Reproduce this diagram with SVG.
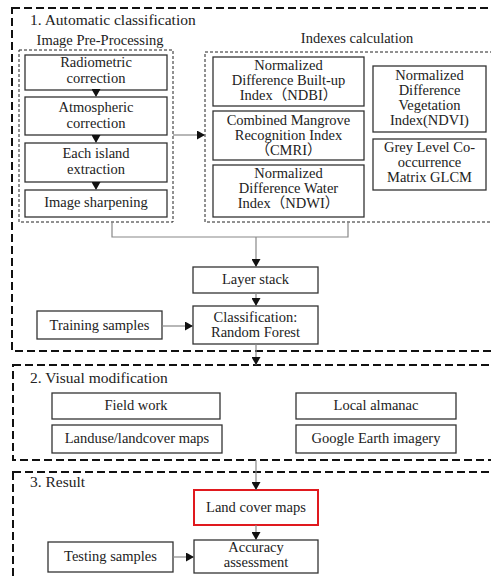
<svg xmlns="http://www.w3.org/2000/svg" width="491" height="580" viewBox="0 0 491 580">
<style>
text{font-family:"Liberation Serif","Noto Sans CJK SC",serif;fill:#222;font-size:14.5px;text-anchor:middle}
.hd{font-size:15.5px;text-anchor:start}
.node{fill:#fff;stroke:#333;stroke-width:1.3}
.red{fill:#fff;stroke:#e0191e;stroke-width:2}
.outer{fill:none;stroke:#111;stroke-width:2;stroke-dasharray:8 4}
.inner{fill:none;stroke:#222;stroke-width:1;stroke-dasharray:3 2}
.con{fill:none;stroke:#888;stroke-width:1.2}
</style>
<defs>
<marker id="ah" markerUnits="userSpaceOnUse" markerWidth="9" markerHeight="9" refX="8" refY="4.5" orient="auto">
<path d="M0,0 L8,4.5 L0,9 z" fill="#111"/>
</marker>
</defs>
<rect width="491" height="580" fill="#fff"/>
<g id="sections">
<rect class="outer" x="12" y="8" width="500" height="343"/>
<rect class="outer" x="13" y="365" width="500" height="95"/>
<rect class="outer" x="13" y="472" width="500" height="140"/>
<text class="hd" x="30" y="25">1. Automatic classification</text>
<text class="hd" x="30" y="383">2. Visual modification</text>
<text class="hd" x="30" y="487">3. Result</text>
</g>
<g id="preprocessing">
<rect class="inner" x="19" y="50" width="154" height="172"/>
<text x="100" y="45">Image Pre-Processing</text>
</g>
<g id="indexes">
<rect class="inner" x="205" y="52" width="300" height="170"/>
<text x="357" y="43">Indexes calculation</text>
</g>
<g id="radiometric"><rect class="node" x="25" y="55" width="142" height="35"/><text x="96" y="67">Radiometric</text><text x="96" y="83">correction</text></g>
<g id="atmospheric"><rect class="node" x="25" y="97" width="142" height="38"/><text x="96" y="112">Atmospheric</text><text x="96" y="128">correction</text></g>
<g id="island"><rect class="node" x="25" y="143" width="142" height="39"/><text x="96" y="158">Each island</text><text x="96" y="174">extraction</text></g>
<g id="sharpening"><rect class="node" x="25" y="190" width="142" height="27"/><text x="96" y="207">Image sharpening</text></g>
<g id="ndbi"><rect class="node" x="213" y="57" width="151" height="49"/><text x="288.5" y="70">Normalized</text><text x="288.5" y="85">Difference Built-up</text><text x="288.5" y="100">Index（NDBI）</text></g>
<g id="cmri"><rect class="node" x="213" y="111" width="151" height="49"/><text x="288.5" y="125">Combined Mangrove</text><text x="288.5" y="140">Recognition Index</text><text x="288.5" y="155">（CMRI）</text></g>
<g id="ndwi"><rect class="node" x="213" y="165" width="151" height="52"/><text x="288.5" y="178">Normalized</text><text x="288.5" y="193">Difference Water</text><text x="288.5" y="208">Index（NDWI）</text></g>
<g id="ndvi"><rect class="node" x="373" y="66" width="113" height="66"/><text x="429.5" y="80">Normalized</text><text x="429.5" y="95">Difference</text><text x="429.5" y="110">Vegetation</text><text x="429.5" y="125">Index(NDVI)</text></g>
<g id="glcm"><rect class="node" x="373" y="139" width="113" height="51"/><text x="429.5" y="152">Grey Level Co-</text><text x="429.5" y="167">occurrence</text><text x="429.5" y="182">Matrix GLCM</text></g>
<g id="layerstack"><rect class="node" x="193" y="267" width="125" height="26"/><text x="255.5" y="284">Layer stack</text></g>
<g id="classification"><rect class="node" x="193" y="306" width="125" height="38"/><text x="255.5" y="322">Classification:</text><text x="255.5" y="337">Random Forest</text></g>
<g id="training"><rect class="node" x="37" y="311" width="125" height="28"/><text x="99.5" y="330">Training samples</text></g>
<g id="fieldwork"><rect class="node" x="52" y="393" width="168" height="26"/><text x="136" y="410">Field work</text></g>
<g id="almanac"><rect class="node" x="296" y="393" width="160" height="26"/><text x="376" y="410">Local almanac</text></g>
<g id="landuse"><rect class="node" x="52" y="425" width="170" height="28"/><text x="137" y="443">Landuse/landcover maps</text></g>
<g id="google"><rect class="node" x="296" y="425" width="160" height="28"/><text x="376" y="443">Google Earth imagery</text></g>
<g id="landcover"><rect class="red" x="194" y="490" width="124" height="35"/><text x="256" y="512">Land cover maps</text></g>
<g id="accuracy"><rect class="node" x="194" y="540" width="124" height="33"/><text x="256" y="552">Accuracy</text><text x="256" y="567">assessment</text></g>
<g id="testing"><rect class="node" x="48" y="542" width="125" height="30"/><text x="110.5" y="561">Testing samples</text></g>
<g id="connectors">
<line class="con" x1="96" y1="90" x2="96" y2="97" marker-end="url(#ah)"/>
<line class="con" x1="96" y1="135" x2="96" y2="143" marker-end="url(#ah)"/>
<line class="con" x1="96" y1="182" x2="96" y2="190" marker-end="url(#ah)"/>
<line class="con" x1="173" y1="135" x2="205" y2="135" marker-end="url(#ah)"/>
<polyline class="con" points="112,222 112,237 348,237 348,222"/>
<line class="con" x1="256" y1="237" x2="256" y2="267" marker-end="url(#ah)"/>
<line class="con" x1="256" y1="293" x2="256" y2="306" marker-end="url(#ah)"/>
<line class="con" x1="162" y1="326" x2="193" y2="326" marker-end="url(#ah)"/>
<line class="con" x1="256" y1="344" x2="256" y2="365" marker-end="url(#ah)"/>
<line class="con" x1="256" y1="460" x2="256" y2="490" marker-end="url(#ah)"/>
<line class="con" x1="256" y1="525" x2="256" y2="540" marker-end="url(#ah)"/>
<line class="con" x1="173" y1="557" x2="194" y2="557" marker-end="url(#ah)"/>
</g>
</svg>
